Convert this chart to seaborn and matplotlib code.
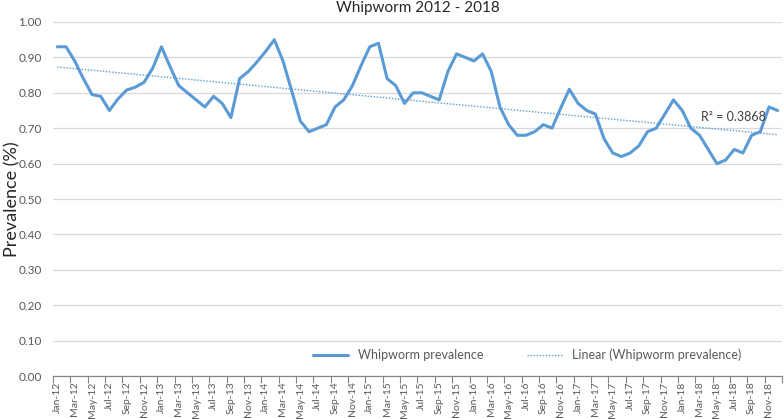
import numpy as np
import pandas as pd
import matplotlib
matplotlib.use("Agg")
import matplotlib.pyplot as plt
import seaborn as sns

# ---- data ----
months = ["Jan", "Feb", "Mar", "Apr", "May", "Jun", "Jul", "Aug", "Sep", "Oct", "Nov", "Dec"]
years = ["12", "13", "14", "15", "16", "17", "18"]
categories = [f"{m}-{y}" for y in years for m in months]

prevalence = [
    # 2012
    0.93, 0.93, 0.89, 0.84, 0.795, 0.79, 0.75, 0.783, 0.808, 0.816, 0.83, 0.87,
    # 2013
    0.93, 0.873, 0.82, 0.80, 0.78, 0.76, 0.79, 0.77, 0.73, 0.84, 0.86, 0.887,
    # 2014
    0.917, 0.95, 0.89, 0.806, 0.72, 0.69, 0.70, 0.71, 0.76, 0.78, 0.82, 0.877,
    # 2015
    0.93, 0.94, 0.84, 0.82, 0.77, 0.80, 0.80, 0.79, 0.78, 0.86, 0.91, 0.90,
    # 2016
    0.89, 0.91, 0.86, 0.76, 0.71, 0.68, 0.68, 0.69, 0.71, 0.70, 0.757, 0.81,
    # 2017
    0.77, 0.75, 0.74, 0.67, 0.63, 0.62, 0.63, 0.65, 0.69, 0.70, 0.74, 0.78,
    # 2018
    0.75, 0.70, 0.68, 0.64, 0.60, 0.61, 0.64, 0.63, 0.68, 0.69, 0.76, 0.75,
]
series_name = "Whipworm prevalence"
trend_name = "Linear (Whipworm prevalence)"
r2_label = "R\u00b2 = 0.3868"
title = "Whipworm 2012 - 2018"
ylabel = "Prevalence (%)"
yticks = [0.0, 0.1, 0.2, 0.3, 0.4, 0.5, 0.6, 0.7, 0.8, 0.9, 1.0]

# ---- build frame ----
idx = np.arange(len(categories))
df = pd.DataFrame({"idx": idx, "month": categories, "value": prevalence})
coef = np.polyfit(df["idx"], df["value"], 1)
df["trend"] = np.polyval(coef, df["idx"])

sns.set_theme(style="white")
plt.rcParams["font.family"] = ["Lato", "DejaVu Sans"]

blue = "#5B9BD5"
fig = plt.figure(figsize=(7.84, 4.19), dpi=100)
ax = fig.add_axes([53 / 784, 1 - 376 / 419, (782 - 53) / 784, (376 - 22) / 419])

sns.lineplot(data=df, x="idx", y="value", ax=ax, color=blue, linewidth=2.2,
             label=series_name)
sns.lineplot(data=df, x="idx", y="trend", ax=ax, color=blue, linewidth=1.0,
             linestyle=(0, (1, 1.2)), label=trend_name)

ax.set_xlim(-0.5, len(categories) - 0.5)
ax.set_ylim(0, 1.0)
ax.set_yticks(yticks)
ax.set_yticklabels([f"{v:.2f}" for v in yticks], fontsize=8.5, color="#595959")
ax.yaxis.grid(True, color="#D9D9D9", linewidth=0.9)
ax.xaxis.grid(False)
ax.tick_params(axis="y", length=0, pad=8)

ax.set_xticks(idx[::2])
ax.set_xticklabels(categories[::2], rotation=90, fontsize=7.5, color="#595959")
ax.set_xticks(np.arange(-0.5, len(categories), 2), minor=True)
ax.tick_params(axis="x", which="major", length=0, pad=4)
ax.tick_params(axis="x", which="minor", length=5, width=0.8, color="#868686",
               direction="out", bottom=True)

for s in ["top", "right", "left"]:
    ax.spines[s].set_visible(False)
ax.spines["bottom"].set_color("#868686")
ax.spines["bottom"].set_linewidth(0.9)

ax.set_xlabel("")
ax.set_ylabel(ylabel, fontsize=13, color="#262626", va="center")
ax.yaxis.set_label_coords(-41 / 729, 0.5)
ax.set_title(title, fontsize=11, color="#262626", pad=7)

ax.text(74.2, 0.732, r2_label, fontsize=9, color="#404040", va="center", ha="left")

leg = ax.legend(loc="lower center", bbox_to_anchor=(0.65, 0.01), ncol=2, frameon=False,
                fontsize=9, handlelength=2.8, columnspacing=3.5, labelcolor="#595959")

fig.savefig("out.png", dpi=100, facecolor="white")
